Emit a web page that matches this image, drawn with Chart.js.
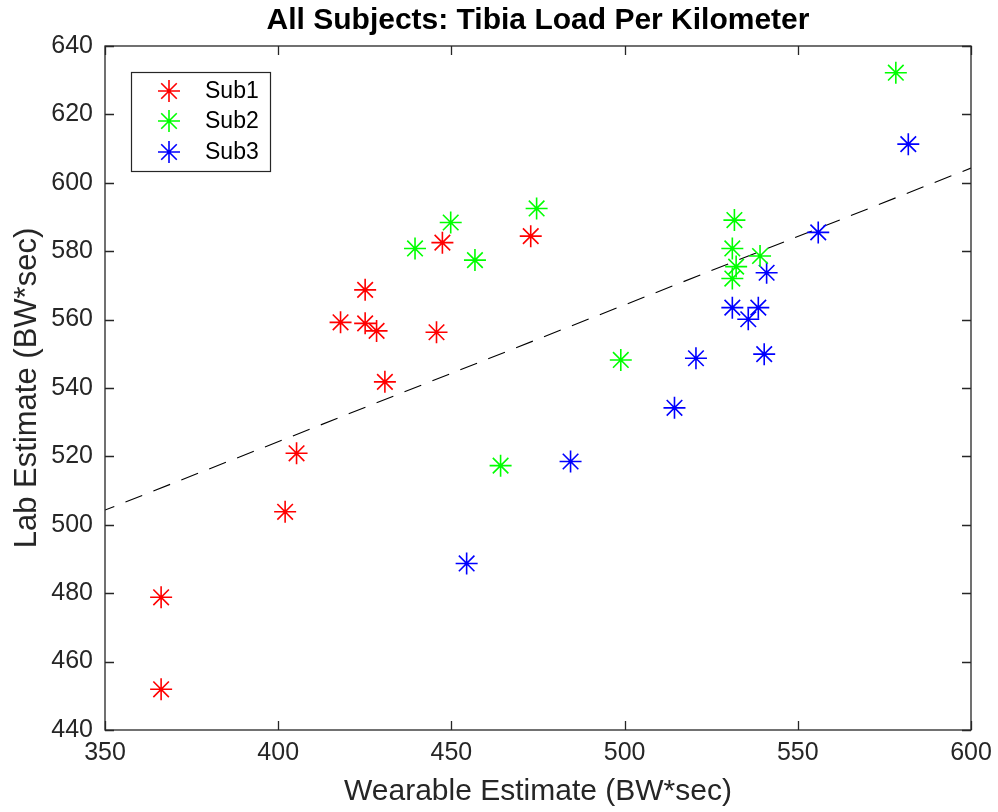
<!DOCTYPE html>
<html>
<head>
<meta charset="utf-8">
<script src="https://cdn.jsdelivr.net/npm/chart.js@4/dist/chart.umd.min.js"></script>
<style>
  html, body { margin: 0; padding: 0; background: #fff; }
  #wrap { width: 998px; height: 812px; }
</style>
</head>
<body>
<div id="wrap"><canvas id="myChart" width="998" height="812"></canvas></div>
<script>
// values
const sub1X = [366.2, 366.2, 405.3, 402.0, 430.8, 418.0, 425.1, 425.1, 428.4, 445.7, 447.4, 472.9];
const sub1Y = [478.8, 451.9, 520.9, 503.8, 541.8, 559.2, 568.7, 558.9, 556.7, 556.3, 582.5, 584.4];
const sub2X = [439.5, 449.8, 456.8, 474.6, 464.2, 498.9, 578.3, 531.7, 531.1, 532.2, 531.1, 539.1];
const sub2Y = [580.8, 588.4, 577.4, 592.5, 517.3, 548.2, 632.2, 589.1, 580.8, 575.5, 572.0, 578.6];
const sub3X = [454.4, 484.4, 514.4, 520.6, 531.1, 535.7, 538.6, 541.0, 540.3, 555.9, 581.9];
const sub3Y = [488.7, 518.5, 534.2, 548.7, 563.5, 560.1, 563.5, 573.7, 549.9, 585.5, 611.3];
const fitX = [350, 600];
const fitY = [504.3, 604.3];
const subNames = ["Sub1", "Sub2", "Sub3"];
const xTicks = [350, 400, 450, 500, 550, 600];
const yTicks = [440, 460, 480, 500, 520, 540, 560, 580, 600, 620, 640];
const titleText = 'All Subjects: Tibia Load Per Kilometer';

const FONT = "'Liberation Sans', Arial, Helvetica, sans-serif";
const AXC = "#262626";

function pts(xs, ys) {
  return xs.map((x, i) => ({ x: x, y: ys[i] }));
}

function starSet(label, xs, ys, color) {
  return {
    label: label,
    data: pts(xs, ys),
    showLine: false,
    pointStyle: 'star',
    pointRadius: 11,
    pointHoverRadius: 11,
    borderColor: color,
    backgroundColor: color,
    pointBorderWidth: 1.6
  };
}

// box, inward ticks, title over the axes and the legend
const boxPlugin = {
  id: 'boxPlugin',
  afterDraw(chart) {
    const ctx = chart.ctx;
    const a = chart.chartArea;
    const xs = chart.scales.x, ys = chart.scales.y;
    ctx.save();
    ctx.strokeStyle = AXC;
    ctx.lineWidth = 1.3;
    ctx.strokeRect(a.left, a.top, a.right - a.left, a.bottom - a.top);
    ctx.beginPath();
    xTicks.forEach(v => {
      const p = Math.round(xs.getPixelForValue(v)) + 0.5;
      ctx.moveTo(p, a.bottom); ctx.lineTo(p, a.bottom - 9);
      ctx.moveTo(p, a.top); ctx.lineTo(p, a.top + 9);
    });
    yTicks.forEach(v => {
      const p = Math.round(ys.getPixelForValue(v)) + 0.5;
      ctx.moveTo(a.left, p); ctx.lineTo(a.left + 9, p);
      ctx.moveTo(a.right, p); ctx.lineTo(a.right - 9, p);
    });
    ctx.stroke();

    // title
    ctx.fillStyle = '#000';
    ctx.font = "bold 30px " + FONT;
    ctx.textAlign = 'center';
    ctx.textBaseline = 'middle';
    ctx.fillText(titleText, (a.left + a.right) / 2, 21);

    // legend
    const lx = 131, ly = 72, lw = 139, lh = 99;
    ctx.fillStyle = '#fff';
    ctx.fillRect(lx, ly, lw, lh);
    ctx.strokeStyle = AXC;
    ctx.lineWidth = 1.2;
    ctx.strokeRect(lx + 0.5, ly + 0.5, lw, lh);
    const rows = [91, 121, 152];
    ctx.font = "23px " + FONT;
    ctx.textBaseline = 'middle';
    ctx.textAlign = 'left';
    chart.data.datasets.slice(0, 3).forEach((ds, i) => {
      ctx.strokeStyle = ds.borderColor;
      ctx.fillStyle = ds.borderColor;
      ctx.lineWidth = 1.6;
      Chart.helpers.drawPoint(ctx, { pointStyle: 'star', radius: 11, rotation: 0, borderWidth: 1.6 }, 169, rows[i]);
      ctx.fillStyle = '#000';
      ctx.fillText(ds.label, 205, rows[i] + 1);
    });
    ctx.restore();
  }
};

const ctx = document.getElementById('myChart').getContext('2d');
const myChart = new Chart(ctx, {
  type: 'scatter',
  data: {
    datasets: [
      starSet(subNames[0], sub1X, sub1Y, '#ff0000'),
      starSet(subNames[1], sub2X, sub2Y, '#00ff00'),
      starSet(subNames[2], sub3X, sub3Y, '#0000ff'),
      {
        label: 'fit',
        data: pts(fitX, fitY),
        showLine: true,
        pointRadius: 0,
        borderColor: '#000',
        borderWidth: 1.1,
        borderDash: [18, 12],
        borderDashOffset: 8
      }
    ]
  },
  options: {
    responsive: false,
    animation: false,
    layout: { padding: { left: 0, right: 27, top: 46, bottom: 0 } },
    plugins: {
      legend: { display: false },
      tooltip: { enabled: false },
      title: { display: false }
    },
    scales: {
      x: {
        type: 'linear',
        min: 350, max: 600,
        afterBuildTicks: s => { s.ticks = xTicks.map(v => ({ value: v })); },
        afterFit: s => { s.height = 82; s.paddingLeft = 0; s.paddingRight = 0; },
        grid: { display: false, drawTicks: false },
        border: { display: false },
        ticks: { color: AXC, font: { family: FONT, size: 25 }, padding: 8 },
        title: {
          display: true,
          text: 'Wearable Estimate (BW*sec)',
          color: AXC,
          font: { family: FONT, size: 30 },
          padding: { top: 2, bottom: 2 }
        }
      },
      y: {
        type: 'linear',
        min: 440, max: 640,
        afterBuildTicks: s => { s.ticks = yTicks.map(v => ({ value: v })); },
        afterFit: s => { s.width = 105; s.paddingTop = 0; s.paddingBottom = 0; },
        grid: { display: false, drawTicks: false },
        border: { display: false },
        ticks: { color: AXC, font: { family: FONT, size: 25 }, padding: 12 },
        title: {
          display: true,
          text: 'Lab Estimate (BW*sec)',
          color: AXC,
          font: { family: FONT, size: 31 },
          padding: { top: 9, bottom: 4 }
        }
      }
    }
  },
  plugins: [boxPlugin]
});
</script>
</body>
</html>
